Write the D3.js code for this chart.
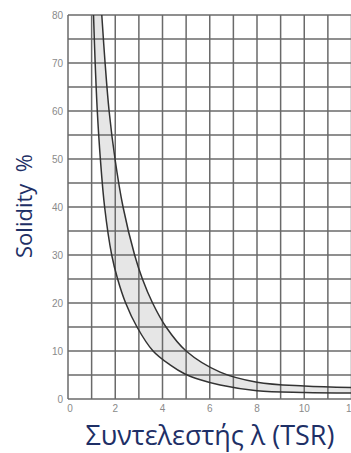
<!DOCTYPE html>
<html>
<head>
<meta charset="utf-8">
<script src="https://cdn.jsdelivr.net/npm/d3@7"></script>
<style>
  html, body { margin: 0; padding: 0; background: #fff; }
  svg { display: block; }
</style>
</head>
<body>
<svg id="chart"></svg>
<script>
// tick labels
const xTicks = [0, 2, 4, 6, 8, 10, 12];
const yTicks = [0, 10, 20, 30, 40, 50, 60, 70, 80];
// grid steps
const xGrid = [0, 1, 2, 3, 4, 5, 6, 7, 8, 9, 10, 11, 12];
const yGrid = [0, 5, 10, 15, 20, 25, 30, 35, 40, 45, 50, 55, 60, 65, 70, 75, 80];

// lower curve
const lowerTSR = [1.08, 1.15, 1.24, 1.37, 1.55, 1.85, 2.1, 2.44, 2.92, 3.6, 4.32, 4.95, 5.6, 6.44, 8, 10, 12];
const lowerSol = [80, 70, 60, 50, 40, 30, 25, 20, 15, 10, 7.1, 5.2, 4.0, 2.9, 1.7, 1.35, 1.25];
// upper curve
const upperTSR = [1.43, 1.57, 1.74, 1.99, 2.33, 2.82, 3.15, 3.58, 4.15, 5.0, 6.44, 8, 10, 12];
const upperSol = [80, 70, 60, 50, 40, 30, 25, 20, 15, 10, 5.6, 3.5, 2.7, 2.4];

const W = 351, H = 453;
const svg = d3.select('#chart').attr('width', W).attr('height', H);

const x = d3.scaleLinear().domain([0, 12]).range([68, 351.5]);
const y = d3.scaleLinear().domain([0, 80]).range([399, 15]);

const lower = lowerTSR.map((v, i) => [v, lowerSol[i]]);
const upper = upperTSR.map((v, i) => [v, upperSol[i]]);

const line = d3.line()
  .x(d => x(d[0]))
  .y(d => y(d[1]))
  .curve(d3.curveCatmullRom.alpha(0.5));

// shaded band between curves
const band = line(lower) + 'L' + line(upper.slice().reverse()).slice(1) + 'Z';
svg.append('path')
  .attr('d', band)
  .attr('fill', '#e6e6e6');

// grid
const grid = svg.append('g').attr('stroke', '#6a6a6a').attr('stroke-width', 1.5);
grid.selectAll('.v').data(xGrid).enter().append('line')
  .attr('x1', d => x(d)).attr('x2', d => x(d))
  .attr('y1', y(80)).attr('y2', y(0));
grid.selectAll('.h').data(yGrid).enter().append('line')
  .attr('x1', x(0)).attr('x2', W)
  .attr('y1', d => y(d)).attr('y2', d => y(d));

// curves
svg.append('path').attr('d', line(lower))
  .attr('fill', 'none').attr('stroke', '#333').attr('stroke-width', 1.5);
svg.append('path').attr('d', line(upper))
  .attr('fill', 'none').attr('stroke', '#333').attr('stroke-width', 1.5);

// tick labels
svg.append('g').selectAll('text').data(yTicks).enter().append('text')
  .attr('x', 63)
  .attr('y', d => y(d) + 4)
  .attr('text-anchor', 'end')
  .style('font-family', 'Liberation Sans, Arial, sans-serif')
  .style('font-size', '10px')
  .style('fill', '#8a8a8a')
  .text(d => d);

svg.append('g').selectAll('text').data(xTicks).enter().append('text')
  .attr('x', d => x(d) + (d === 0 ? 2 : 0))
  .attr('y', 412)
  .attr('text-anchor', 'middle')
  .style('font-family', 'Liberation Sans, Arial, sans-serif')
  .style('font-size', '10px')
  .style('fill', '#8a8a8a')
  .text(d => d);

// axis titles
svg.append('text')
  .attr('transform', 'translate(32,206) rotate(-90)')
  .attr('text-anchor', 'middle')
  .style('font-family', 'Open Sans, Noto Sans, sans-serif')
  .style('font-size', '22px')
  .style('fill', '#1e2f66')
  .style('white-space', 'pre')
  .text('Solidity  %');

svg.append('text')
  .attr('x', 210)
  .attr('y', 445)
  .attr('text-anchor', 'middle')
  .style('font-family', 'Open Sans, Noto Sans, sans-serif')
  .style('font-size', '27px')
  .style('fill', '#1e2f66')
  .text('Συντελεστής λ (TSR)');
</script>
</body>
</html>
